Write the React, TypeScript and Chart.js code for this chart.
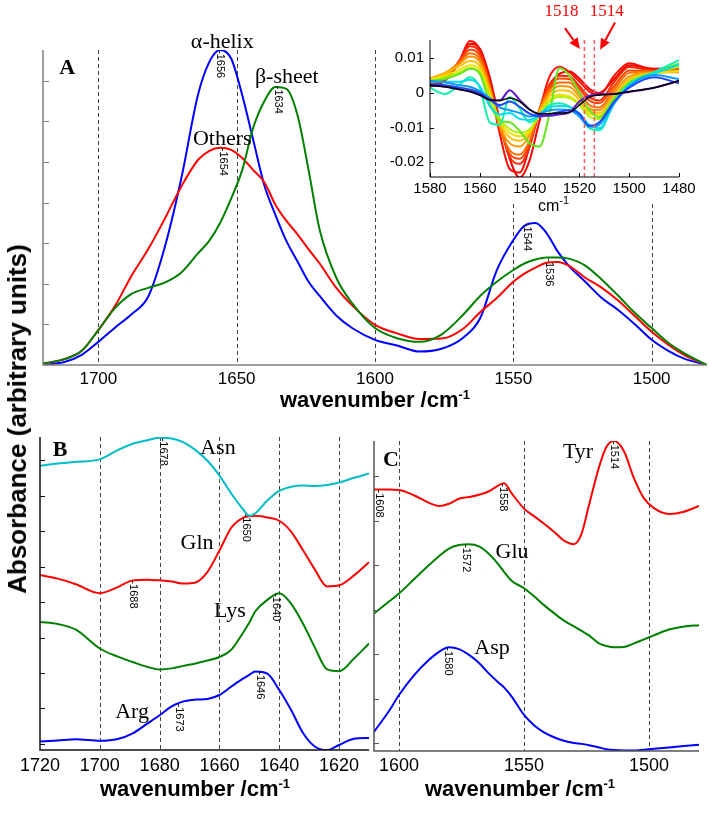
import React, { useEffect, useRef } from "react";
import { Chart, registerables } from "chart.js";
Chart.register(...registerables);

const SANS = '"Liberation Sans", Arial, Helvetica, sans-serif';
const SERIF = '"Liberation Serif", "Times New Roman", serif';

// ---------- Panel A : secondary structure spectra ----------
const waveA = [1720, 1712, 1706, 1700, 1694, 1688, 1682, 1676, 1670, 1664, 1660, 1656, 1652, 1648, 1644, 1640, 1636, 1632, 1628, 1624, 1620, 1614, 1608, 1600, 1592, 1584, 1576, 1568, 1562, 1556, 1550, 1546, 1542, 1538, 1534, 1530, 1524, 1518, 1512, 1506, 1500, 1494, 1488, 1480];
const alphaHelix = [0.0, 0.008, 0.025, 0.057, 0.092, 0.125, 0.168, 0.29, 0.46, 0.665, 0.745, 0.776, 0.755, 0.665, 0.554, 0.443, 0.37, 0.305, 0.255, 0.205, 0.17, 0.122, 0.09, 0.062, 0.048, 0.033, 0.04, 0.068, 0.115, 0.233, 0.308, 0.343, 0.35, 0.325, 0.28, 0.245, 0.205, 0.165, 0.135, 0.1, 0.062, 0.035, 0.015, 0.0];
const betaSheet = [0.004, 0.015, 0.035, 0.086, 0.14, 0.175, 0.19, 0.203, 0.228, 0.275, 0.305, 0.35, 0.41, 0.48, 0.585, 0.65, 0.685, 0.68, 0.615, 0.48, 0.333, 0.215, 0.15, 0.091, 0.066, 0.057, 0.075, 0.125, 0.17, 0.205, 0.234, 0.25, 0.26, 0.265, 0.265, 0.262, 0.245, 0.21, 0.17, 0.128, 0.091, 0.055, 0.028, 0.0];
const othersA = [0.003, 0.015, 0.035, 0.086, 0.145, 0.22, 0.285, 0.36, 0.44, 0.505, 0.527, 0.535, 0.53, 0.51, 0.48, 0.45, 0.395, 0.355, 0.322, 0.285, 0.25, 0.19, 0.145, 0.099, 0.078, 0.064, 0.065, 0.09, 0.13, 0.165, 0.205, 0.225, 0.24, 0.252, 0.254, 0.245, 0.215, 0.19, 0.158, 0.12, 0.082, 0.05, 0.024, 0.0];
const xTicksA = [1700, 1650, 1600, 1550, 1500];
const yTicksA = [0.1, 0.2, 0.3, 0.4, 0.5, 0.6, 0.7];
const namesA = ["α-helix", "β-sheet", "Others"];
const nameWaveA = [1655.2, 1631.9, 1655.2];
const nameAbsA = [0.781, 0.694, 0.542];
const peakLabelsA = ["1656", "1654", "1634", "1544", "1536"];
const peakWaveA = [1656, 1654.8, 1635, 1545, 1537];
const peakAbsA = [0.776, 0.535, 0.688, 0.35, 0.263];

// ---------- Inset : second-derivative spectra ----------
const waveInset = [1580, 1574, 1568, 1564, 1560, 1556, 1552, 1548, 1544, 1540, 1536, 1532, 1528, 1524, 1520, 1516, 1512, 1506, 1500, 1490, 1480];
const insetBlack = [0.0022, 0.0018, 0.001, 0.0004, -0.0006, -0.002, -0.0022, -0.0015, -0.0025, -0.0048, -0.006, -0.006, -0.0058, -0.0056, -0.0035, -0.0012, -0.0006, -0.0003, 0.0004, 0.0015, 0.0035];
const insetPurple = [0.0022, 0.0018, 0.001, 0.0004, -0.0006, -0.002, -0.0022, 0.0008, -0.002, -0.0048, -0.0063, -0.0066, -0.0062, -0.0056, -0.0025, -0.0008, -0.0004, -0.0003, 0.0003, 0.0015, 0.0035];
const insetBlue = [0.0025, 0.0022, 0.0015, 0.001, 0.0, -0.002, -0.0035, -0.0025, -0.004, -0.006, -0.0068, -0.0062, -0.0055, -0.005, -0.006, -0.0095, -0.0085, -0.0025, 0.0015, 0.0045, 0.0028];
const insetLightBlue = [0.0035, 0.003, 0.0022, 0.0018, 0.0005, -0.0015, -0.0042, -0.005, -0.0058, -0.0068, -0.006, -0.005, -0.0048, -0.005, -0.0068, -0.0098, -0.0092, -0.003, 0.002, 0.0052, 0.004];
const insetCyan = [0.0032, 0.0032, 0.0032, 0.0038, 0.002, -0.0038, -0.0062, -0.0058, -0.0075, -0.0078, -0.006, -0.0042, -0.0038, -0.004, -0.006, -0.0092, -0.0102, -0.003, 0.0022, 0.0055, 0.0082];
const insetAqua = [0.0015, -0.0003, 0.0025, 0.0045, 0.0015, -0.0085, -0.0092, -0.0012, -0.0045, -0.0085, -0.0065, -0.0035, -0.003, -0.004, -0.0065, -0.0102, -0.0108, -0.0028, 0.0025, 0.006, 0.0095];
const insetLime = [0.0035, 0.004, 0.0055, 0.007, 0.0055, -0.003, -0.008, -0.0085, -0.011, -0.0145, -0.0155, -0.006, 0.0072, 0.005, 0.0, -0.005, -0.007, -0.0015, 0.003, 0.006, 0.0085];
const insetYellowGreen = [0.0035, 0.0045, 0.006, 0.0072, 0.006, -0.001, -0.0075, -0.0105, -0.0115, -0.0105, -0.0065, -0.0025, -0.0012, -0.0015, -0.0035, -0.0068, -0.0075, -0.002, 0.003, 0.0058, 0.0075];
const insetYellow = [0.0038, 0.005, 0.0068, 0.008, 0.0068, -0.0005, -0.0082, -0.0115, -0.0125, -0.011, -0.006, -0.002, -0.0005, -0.001, -0.003, -0.006, -0.0065, -0.0015, 0.0035, 0.0055, 0.0065];
const insetAmber = [0.004, 0.0055, 0.0078, 0.0092, 0.0078, 0.0005, -0.0088, -0.0128, -0.0138, -0.0115, -0.0055, -0.001, 0.0008, 0.0005, -0.002, -0.0052, -0.0058, -0.001, 0.004, 0.0058, 0.0062];
const insetOrange = [0.0042, 0.0058, 0.0085, 0.0105, 0.009, 0.0012, -0.0095, -0.0145, -0.0155, -0.0122, -0.005, 0.0, 0.002, 0.0018, -0.001, -0.0045, -0.005, 0.0, 0.0048, 0.006, 0.006];
const insetDarkOrange = [0.0035, 0.0055, 0.009, 0.0115, 0.0098, 0.0018, -0.01, -0.0165, -0.0178, -0.0138, -0.005, 0.0008, 0.003, 0.003, 0.0, -0.0035, -0.0042, 0.001, 0.0058, 0.0062, 0.0062];
const insetRedOrange = [0.003, 0.005, 0.0092, 0.0125, 0.0108, 0.0025, -0.0095, -0.0175, -0.019, -0.0145, -0.0045, 0.0018, 0.0042, 0.004, 0.0012, -0.0022, -0.003, 0.002, 0.0065, 0.0062, 0.0065];
const insetRed1 = [0.0025, 0.0045, 0.0095, 0.0135, 0.0118, 0.003, -0.0092, -0.0185, -0.0205, -0.0155, -0.0048, 0.0025, 0.005, 0.0048, 0.002, -0.0012, -0.0022, 0.0032, 0.0075, 0.0065, 0.0068];
const insetRed2 = [0.0022, 0.004, 0.0096, 0.015, 0.0125, 0.002, -0.0117, -0.022, -0.023, -0.0155, -0.005, 0.0047, 0.0076, 0.006, 0.0033, 0.0004, -0.0006, 0.005, 0.0086, 0.0067, 0.0071];
const insetRed3 = [0.0018, 0.0035, 0.009, 0.0142, 0.0128, 0.0045, -0.008, -0.019, -0.0245, -0.0195, -0.008, 0.001, 0.0055, 0.0062, 0.0042, 0.0012, 0.0, 0.004, 0.008, 0.007, 0.0072];
const insetXTicks = [1580, 1560, 1540, 1520, 1500, 1480];
const insetYTicks = [0.01, 0, -0.01, -0.02];
const insetYTickLabels = ["0.01", "0", "-0.01", "-0.02"];
const insetMarkers = [1518, 1514];
const insetMarkerLabels = ["1518", "1514"];
const insetMarkerLabelWave = [1527.2, 1509.0];
const insetMarkerLabelValue = [0.0221, 0.0221];
const arrowFromWave = [1525.8, 1505.7];
const arrowFromValue = [0.01875, 0.02038];
const arrowToWave = [1519.8, 1511.7];
const arrowToValue = [0.01267, 0.01246];

// ---------- Panel B : amide side chains ----------
const waveB = [1720, 1714, 1708, 1700, 1694, 1689, 1684, 1680, 1676, 1672, 1668, 1664, 1660, 1656, 1652, 1650, 1648, 1644, 1640, 1636, 1632, 1628, 1624, 1620, 1615, 1610];
const asn = [7.84, 7.9, 7.95, 8.02, 8.28, 8.46, 8.56, 8.63, 8.61, 8.5, 8.28, 7.98, 7.56, 7.05, 6.6, 6.43, 6.5, 6.86, 7.13, 7.25, 7.28, 7.27, 7.3, 7.37, 7.5, 7.62];
const gln = [4.76, 4.66, 4.5, 4.25, 4.42, 4.61, 4.63, 4.61, 4.58, 4.52, 4.55, 4.85, 5.45, 6.1, 6.38, 6.42, 6.43, 6.38, 6.29, 5.98, 5.45, 4.9, 4.44, 4.47, 4.75, 5.12];
const lys = [3.44, 3.38, 3.22, 2.69, 2.46, 2.31, 2.17, 2.1, 2.13, 2.2, 2.27, 2.35, 2.45, 2.66, 3.15, 3.42, 3.74, 4.06, 4.25, 3.95, 3.38, 2.7, 2.1, 2.05, 2.41, 2.83];
const arg = [0.07, 0.1, 0.13, 0.09, 0.14, 0.3, 0.58, 0.81, 1.06, 1.2, 1.25, 1.27, 1.38, 1.62, 1.85, 1.95, 2.04, 1.98, 1.52, 0.95, 0.3, -0.08, -0.18, -0.03, 0.15, 0.17];
const xTicksB = [1720, 1700, 1680, 1660, 1640, 1620];
const dashB = [1700, 1680, 1660, 1640, 1620];
const yTicksB = [0, 1, 2, 3, 4, 5, 6, 7, 8];
const namesB = ["Asn", "Gln", "Lys", "Arg"];
const nameWaveB = [1660.5, 1667.5, 1656.5, 1689.2];
const nameAbsB = [8.18, 5.5, 3.58, 0.73];
const peakLabelsB = ["1678", "1650", "1688", "1640", "1646", "1673"];
const peakWaveB = [1679, 1651.1, 1688.9, 1641.1, 1646.4, 1673.5];
const peakAbsB = [8.63, 6.49, 4.61, 4.25, 2.05, 1.14];

// ---------- Panel C : acidic / aromatic side chains ----------
const waveC = [1610, 1604, 1600, 1594, 1588, 1584, 1580, 1576, 1572, 1568, 1564, 1560, 1558, 1555, 1550, 1546, 1542, 1538, 1534, 1530, 1527, 1524, 1520, 1517, 1514, 1510, 1506, 1502, 1498, 1492, 1486, 1480];
const tyr = [5.7, 5.7, 5.69, 5.57, 5.4, 5.33, 5.38, 5.49, 5.53, 5.58, 5.66, 5.8, 5.84, 5.62, 5.27, 5.1, 4.93, 4.75, 4.55, 4.47, 4.7, 5.35, 6.2, 6.66, 6.79, 6.56, 5.95, 5.5, 5.28, 5.15, 5.2, 5.33];
const glu = [2.91, 3.18, 3.36, 3.68, 4.0, 4.2, 4.37, 4.45, 4.47, 4.42, 4.25, 4.0, 3.85, 3.65, 3.48, 3.3, 3.1, 2.92, 2.75, 2.62, 2.52, 2.42, 2.24, 2.18, 2.15, 2.16, 2.24, 2.33, 2.42, 2.55, 2.62, 2.65];
const asp = [0.25, 0.72, 1.08, 1.52, 1.87, 2.05, 2.15, 2.11, 1.98, 1.8, 1.56, 1.35, 1.25, 1.05, 0.63, 0.4, 0.24, 0.13, 0.05, 0.0, -0.02, -0.05, -0.1, -0.14, -0.16, -0.17, -0.17, -0.15, -0.13, -0.1, -0.07, -0.04];
const xTicksC = [1600, 1550, 1500];
const dashC = [1600, 1550, 1500];
const yTicksC = [0, 1, 2, 3, 4, 5, 6];
const namesC = ["Tyr", "Glu", "Asp"];
const nameWaveC = [1528.4, 1554.8, 1562.8];
const nameAbsC = [6.4, 4.17, 2.0];
const peakLabelsC = ["1608", "1558", "1514", "1572", "1580"];
const peakWaveC = [1608, 1558.4, 1514, 1573.2, 1580.4];
const peakAbsC = [5.7, 5.84, 6.79, 4.47, 2.15];

type Series = { xs: number[]; ys: number[]; color: string; width?: number };
type Txt = { text: string; w: number; v: number; font: string; color?: string };

function texts(t: string[], w: number[], v: number[], font: string, color?: string): Txt[] {
  return t.map((s, i) => ({ text: s, w: w[i], v: v[i], font, color }));
}

function drawArrow(ctx: any, x0: number, y0: number, x1: number, y1: number, color: string) {
  const ang = Math.atan2(y1 - y0, x1 - x0);
  const L = 11, H = 5;
  const bx = x1 - L * Math.cos(ang), by = y1 - L * Math.sin(ang);
  ctx.strokeStyle = color;
  ctx.fillStyle = color;
  ctx.lineWidth = 2;
  ctx.setLineDash([]);
  ctx.beginPath();
  ctx.moveTo(x0, y0);
  ctx.lineTo(bx, by);
  ctx.stroke();
  ctx.beginPath();
  ctx.moveTo(x1, y1);
  ctx.lineTo(bx + H * Math.sin(ang), by - H * Math.cos(ang));
  ctx.lineTo(bx - H * Math.sin(ang), by + H * Math.cos(ang));
  ctx.closePath();
  ctx.fill();
}

function makePlugin(cfg: any) {
  return {
    id: "panelDecor",
    beforeDraw(chart: any) {
      if (cfg.bgHeight) {
        const c = chart.ctx;
        c.save();
        c.fillStyle = "#ffffff";
        c.fillRect(0, 0, chart.width, cfg.bgHeight);
        c.restore();
      }
    },
    beforeDatasetsDraw(chart: any) {
      const { ctx, chartArea: a } = chart;
      const X = (w: number) => chart.scales.x.getPixelForValue(w);
      ctx.save();
      ctx.strokeStyle = cfg.dashColor || "#444";
      ctx.lineWidth = 1;
      ctx.setLineDash([4, 3]);
      for (const d of cfg.dashes || []) {
        const px = Math.round(X(d)) + 0.5;
        ctx.beginPath();
        ctx.moveTo(px, a.top);
        ctx.lineTo(px, a.bottom);
        ctx.stroke();
      }
      ctx.restore();
    },
    afterDatasetsDraw(chart: any) {
      const { ctx, chartArea: a } = chart;
      const X = (w: number) => chart.scales.x.getPixelForValue(w);
      const Y = (v: number) => chart.scales.y.getPixelForValue(v);
      ctx.save();
      if (cfg.frontDashes) {
        ctx.strokeStyle = "#ff5a5a";
        ctx.lineWidth = 1.5;
        ctx.setLineDash([4, 3]);
        for (const d of cfg.frontDashes) {
          const px = X(d);
          ctx.beginPath();
          ctx.moveTo(px, a.top);
          ctx.lineTo(px, a.bottom);
          ctx.stroke();
        }
      }
      ctx.setLineDash([]);
      ctx.strokeStyle = cfg.axisColor;
      ctx.lineWidth = cfg.axisWidth;
      ctx.beginPath();
      ctx.moveTo(a.left, a.top);
      ctx.lineTo(a.left, a.bottom);
      ctx.lineTo(a.right, a.bottom);
      ctx.stroke();
      ctx.lineWidth = 1;
      ctx.beginPath();
      for (const v of cfg.yTicks || []) {
        const py = Math.round(Y(v)) + 0.5;
        ctx.moveTo(a.left, py);
        ctx.lineTo(a.left + cfg.tickLen, py);
      }
      for (const w of cfg.xTickMarks || []) {
        const px = Math.round(X(w)) + 0.5;
        ctx.moveTo(px, a.bottom);
        ctx.lineTo(px, a.bottom - cfg.tickLen);
      }
      ctx.stroke();
      ctx.fillStyle = "#000";
      ctx.font = cfg.xLabelFont;
      ctx.textAlign = "center";
      ctx.textBaseline = "alphabetic";
      (cfg.xLabels || []).forEach((w: number) => {
        ctx.fillText(String(w), X(w), a.bottom + cfg.xLabelOffset);
      });
      if (cfg.yLabels) {
        ctx.font = cfg.yLabelFont;
        ctx.textAlign = "right";
        ctx.textBaseline = "middle";
        cfg.yLabels.forEach((v: number, i: number) => {
          ctx.fillText(cfg.yLabelText[i], a.left - 6, Y(v));
        });
      }
      ctx.textAlign = "center";
      ctx.textBaseline = "alphabetic";
      for (const t of cfg.names || []) {
        ctx.font = t.font;
        ctx.fillStyle = t.color || "#000";
        ctx.fillText(t.text, X(t.w), Y(t.v));
      }
      ctx.fillStyle = "#000";
      ctx.font = "11px " + SANS;
      ctx.textAlign = "left";
      ctx.textBaseline = "middle";
      for (const p of cfg.peaks || []) {
        ctx.save();
        ctx.translate(X(p.w), Y(p.v));
        ctx.rotate(Math.PI / 2);
        ctx.fillText("-" + p.text, 0, 0);
        ctx.restore();
      }
      for (const ar of cfg.arrows || []) {
        drawArrow(ctx, X(ar[0]), Y(ar[1]), X(ar[2]), Y(ar[3]), "#ff0000");
      }
      ctx.restore();
    },
  };
}

function build(canvas: HTMLCanvasElement, cfg: any) {
  return new Chart(canvas, {
    type: "line",
    data: {
      datasets: cfg.series.map((s: Series) => ({
        data: s.xs.map((x, i) => ({ x, y: s.ys[i] })),
        borderColor: s.color,
        borderWidth: s.width ?? 2,
        pointRadius: 0,
        fill: false,
        tension: 0.4,
        cubicInterpolationMode: "monotone",
      })),
    },
    options: {
      animation: false,
      responsive: false,
      maintainAspectRatio: false,
      devicePixelRatio: 1,
      events: [],
      layout: { padding: cfg.pad },
      scales: {
        x: { type: "linear", min: cfg.xMin, max: cfg.xMax, reverse: true, display: false },
        y: { type: "linear", min: cfg.yMin, max: cfg.yMax, display: false },
      },
      plugins: { legend: { display: false }, tooltip: { enabled: false }, title: { display: false } },
    },
    plugins: [makePlugin(cfg)],
  } as any);
}

const cfgA = {
  pad: { left: 43, top: 50, right: 2, bottom: 60 },
  xMin: 1480, xMax: 1720, yMin: 0, yMax: 0.776,
  series: [
    { xs: waveA, ys: betaSheet, color: "#008000" },
    { xs: waveA, ys: othersA, color: "#ff0000" },
    { xs: waveA, ys: alphaHelix, color: "#0000ff" },
  ],
  dashes: xTicksA,
  axisColor: "#808080", axisWidth: 1.5, tickLen: 6,
  yTicks: yTicksA,
  xLabels: xTicksA, xLabelFont: "17px " + SANS, xLabelOffset: 19,
  names: [
    ...texts(namesA, nameWaveA, nameAbsA, "22px " + SERIF),
    { text: "A", w: 1711.3, v: 0.717, font: "bold 22px " + SERIF },
  ],
  peaks: peakLabelsA.map((t, i) => ({ text: t, w: peakWaveA[i], v: peakAbsA[i] })),
};

const cfgInset = {
  pad: { left: 45, top: 40, right: 30, bottom: 45 },
  xMin: 1480, xMax: 1580, yMin: -0.0243, yMax: 0.0153,
  bgHeight: 202,
  series: [
    { xs: waveInset, ys: insetBlack, color: "#000000", width: 1.5 },
    { xs: waveInset, ys: insetPurple, color: "#5a14c8" },
    { xs: waveInset, ys: insetBlue, color: "#1e46ff" },
    { xs: waveInset, ys: insetLightBlue, color: "#0a9bff" },
    { xs: waveInset, ys: insetCyan, color: "#00dcf0" },
    { xs: waveInset, ys: insetAqua, color: "#14f0aa" },
    { xs: waveInset, ys: insetLime, color: "#64e61e" },
    { xs: waveInset, ys: insetYellowGreen, color: "#b4f000" },
    { xs: waveInset, ys: insetYellow, color: "#f0e100" },
    { xs: waveInset, ys: insetAmber, color: "#ffbe00" },
    { xs: waveInset, ys: insetOrange, color: "#ff9600" },
    { xs: waveInset, ys: insetDarkOrange, color: "#ff6e00" },
    { xs: waveInset, ys: insetRedOrange, color: "#ff4600" },
    { xs: waveInset, ys: insetRed1, color: "#ff2800" },
    { xs: waveInset, ys: insetRed2, color: "#ff0a00" },
    { xs: waveInset, ys: insetRed3, color: "#f00000" },
  ],
  frontDashes: insetMarkers,
  axisColor: "#000", axisWidth: 1, tickLen: 4,
  yTicks: insetYTicks, xTickMarks: insetXTicks,
  xLabels: insetXTicks, xLabelFont: "15px " + SANS, xLabelOffset: 16,
  yLabels: insetYTicks, yLabelText: insetYTickLabels, yLabelFont: "15px " + SANS,
  names: texts(insetMarkerLabels, insetMarkerLabelWave, insetMarkerLabelValue, "17px " + SERIF, "#ff0000"),
  arrows: arrowFromWave.map((w, i) => [w, arrowFromValue[i], arrowToWave[i], arrowToValue[i]]),
};

const cfgB = {
  pad: { left: 40, top: 12, right: 3, bottom: 63 },
  xMin: 1610, xMax: 1720, yMin: -0.17, yMax: 8.65,
  series: [
    { xs: waveB, ys: asn, color: "#00bcc8" },
    { xs: waveB, ys: gln, color: "#ff0000" },
    { xs: waveB, ys: lys, color: "#008000" },
    { xs: waveB, ys: arg, color: "#0000ff" },
  ],
  dashes: dashB,
  axisColor: "#111", axisWidth: 1.5, tickLen: 5,
  yTicks: yTicksB,
  xLabels: xTicksB, xLabelFont: "18px " + SANS, xLabelOffset: 21,
  names: [
    ...texts(namesB, nameWaveB, nameAbsB, "22px " + SERIF),
    { text: "B", w: 1713.3, v: 8.12, font: "bold 22px " + SERIF },
  ],
  peaks: peakLabelsB.map((t, i) => ({ text: t, w: peakWaveB[i], v: peakAbsB[i] })),
};

const cfgC = {
  pad: { left: 2, top: 16, right: 10, bottom: 62 },
  xMin: 1480, xMax: 1610, yMin: -0.18, yMax: 6.79,
  series: [
    { xs: waveC, ys: tyr, color: "#ff0000" },
    { xs: waveC, ys: glu, color: "#008000" },
    { xs: waveC, ys: asp, color: "#0000ff" },
  ],
  dashes: dashC,
  axisColor: "#555", axisWidth: 1.5, tickLen: 5,
  yTicks: yTicksC,
  xLabels: xTicksC, xLabelFont: "18px " + SANS, xLabelOffset: 20,
  names: [
    ...texts(namesC, nameWaveC, nameAbsC, "22px " + SERIF),
    { text: "C", w: 1603.2, v: 6.22, font: "bold 22px " + SERIF },
  ],
  peaks: peakLabelsC.map((t, i) => ({ text: t, w: peakWaveC[i], v: peakAbsC[i] })),
};

function XTitle({ cx, top }: { cx: number; top: number }) {
  return (
    <div
      style={{
        position: "absolute", left: cx, top, transform: "translateX(-50%)",
        font: "bold 22px " + SANS, lineHeight: "22px", whiteSpace: "nowrap", color: "#000",
      }}
    >
      wavenumber /cm<span style={{ fontSize: 13, position: "relative", top: -8 }}>-1</span>
    </div>
  );
}

export default function App() {
  const refA = useRef<HTMLCanvasElement>(null);
  const refI = useRef<HTMLCanvasElement>(null);
  const refB = useRef<HTMLCanvasElement>(null);
  const refC = useRef<HTMLCanvasElement>(null);

  useEffect(() => {
    const charts = [
      build(refA.current!, cfgA),
      build(refB.current!, cfgB),
      build(refC.current!, cfgC),
      build(refI.current!, cfgInset),
    ];
    return () => charts.forEach((c) => c.destroy());
  }, []);

  const abs = (l: number, t: number, w: number, h: number) => ({
    position: "absolute" as const, left: l, top: t, width: w, height: h,
  });

  return (
    <div style={{ position: "absolute", left: 0, top: 0, width: 709, height: 813, background: "#fff", overflow: "hidden" }}>
      <canvas ref={refA} width={709} height={425} style={abs(0, 0, 709, 425)} />
      <canvas ref={refB} width={372} height={388} style={abs(0, 425, 372, 388)} />
      <canvas ref={refC} width={337} height={388} style={abs(372, 425, 337, 388)} />
      <canvas ref={refI} width={324} height={222} style={abs(385, 0, 324, 222)} />
      <div
        style={{
          position: "absolute", left: 538, top: 198, font: "16px " + SANS, lineHeight: "16px",
          whiteSpace: "nowrap", color: "#000",
        }}
      >
        cm<span style={{ fontSize: 11, position: "relative", top: -7 }}>-1</span>
      </div>
      <XTitle cx={375} top={389} />
      <XTitle cx={195} top={778} />
      <XTitle cx={520} top={778} />
      <div
        style={{
          position: "absolute", left: 17, top: 419, transform: "translate(-50%, -50%) rotate(-90deg)",
          font: "bold 26px " + SANS, lineHeight: "26px", whiteSpace: "nowrap", color: "#000",
        }}
      >
        Absorbance (arbitrary units)
      </div>
    </div>
  );
}
